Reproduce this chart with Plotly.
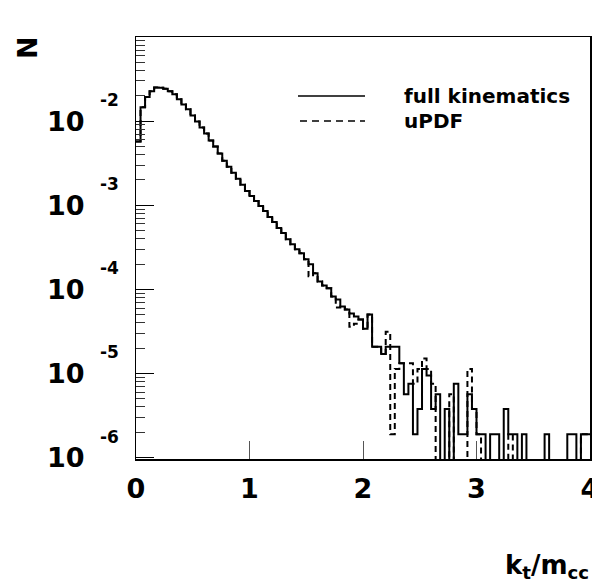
import numpy as np
import plotly.graph_objects as go

# ---- data ----
kt_edges = np.round(np.arange(0, 4.0001, 0.04), 4)  # 100 bins, width 0.04

full_kinematics = [
    5.71e-3, 1.46e-2, 1.94e-2, 2.27e-2, 2.51e-2, 2.49e-2, 2.43e-2, 2.27e-2, 2.08e-2, 1.82e-2,
    1.58e-2, 1.38e-2, 1.17e-2, 9.9e-3, 8.41e-3, 7.13e-3, 5.87e-3, 4.98e-3, 4.11e-3, 3.39e-3,
    2.87e-3, 2.43e-3, 2.06e-3, 1.75e-3, 1.48e-3, 1.29e-3, 1.125e-3, 9.8e-4, 8.55e-4, 7.24e-4,
    6.31e-4, 5.35e-4, 4.67e-4, 3.95e-4, 3.44e-4, 3.00e-4, 2.69e-4, 2.28e-4, 1.99e-4, 1.55e-4,
    1.24e-4, 1.11e-4, 1.03e-4, 8.22e-5, 7.57e-5, 6.25e-5, 5.75e-5, 5.15e-5, 4.74e-5, 4.37e-5,
    3.40e-5, 5.01e-5, 2.08e-5, 2.08e-5, 1.70e-5, 2.08e-5, 2.08e-5, 2.08e-5, 1.32e-5, 5.67e-6,
    7.56e-6, 1.89e-6, 3.78e-6, 1.13e-5, 9.45e-6, 3.78e-6, 5.67e-6, 0, 3.78e-6, 0,
    7.56e-6, 1.89e-6, 1.89e-6, 5.67e-6, 3.78e-6, 1.89e-6, 1.89e-6, 0, 1.89e-6, 1.89e-6,
    0, 3.78e-6, 1.89e-6, 1.89e-6, 0, 1.89e-6, 0, 0, 0, 0,
    1.89e-6, 0, 0, 0, 0, 1.89e-6, 1.89e-6, 0, 1.89e-6, 1.89e-6,
]

updf = [
    5.71e-3, 1.46e-2, 1.94e-2, 2.27e-2, 2.51e-2, 2.49e-2, 2.43e-2, 2.27e-2, 2.08e-2, 1.82e-2,
    1.58e-2, 1.38e-2, 1.17e-2, 9.9e-3, 8.41e-3, 7.13e-3, 5.87e-3, 4.98e-3, 4.11e-3, 3.39e-3,
    2.87e-3, 2.43e-3, 2.06e-3, 1.75e-3, 1.48e-3, 1.29e-3, 1.125e-3, 9.8e-4, 8.55e-4, 7.24e-4,
    6.31e-4, 5.35e-4, 4.67e-4, 3.95e-4, 3.44e-4, 3.00e-4, 2.69e-4, 2.28e-4, 1.43e-4, 1.55e-4,
    1.24e-4, 1.11e-4, 1.03e-4, 8.22e-5, 6.07e-5, 6.25e-5, 5.75e-5, 3.60e-5, 3.91e-5, 4.37e-5,
    3.40e-5, 5.01e-5, 2.08e-5, 2.08e-5, 1.70e-5, 3.13e-5, 1.89e-6, 1.13e-5, 1.32e-5, 1.32e-5,
    1.32e-5, 7.56e-6, 1.13e-5, 1.51e-5, 1.13e-5, 7.56e-6, 0, 0, 0, 5.67e-6,
    0, 0, 0, 1.13e-5, 3.78e-6, 1.89e-6, 0, 0, 0, 0,
    0, 0, 1.89e-6, 0, 0, 0, 0, 0, 0, 0,
    0, 0, 0, 0, 0, 0, 0, 0, 1.89e-6, 1.89e-6,
]

series_names = ["full kinematics", "uPDF"]
x_tick_vals = [0, 1, 2, 3, 4]
x_tick_text = ["0", "1", "2", "3", "4"]
y_decades = [-6, -5, -4, -3, -2]
y_tick_base = "10"
y_tick_exp = ["-6", "-5", "-4", "-3", "-2"]

# ---- figure geometry ----
W_FIG, H_FIG = 592, 588
L, R, T, B = 136, 590, 37, 459
PW, PH = R - L, B - T
FONT = "DejaVu Sans"


def px(x):
    return (x - L) / PW


def py(y):
    return (B - y) / PH


FLOOR = 1e-9  # empty bins drop below the axis


def step_xy(vals):
    v = [FLOOR if val <= 0 else val for val in vals]
    return list(kt_edges), v + [v[-1]]


fig = go.Figure()
xs, ys = step_xy(updf)
fig.add_trace(go.Scatter(x=xs, y=ys, mode="lines", line_shape="hv", name=series_names[1],
                         line=dict(color="black", width=2, dash="6px,4px"), showlegend=False))
xs, ys = step_xy(full_kinematics)
fig.add_trace(go.Scatter(x=xs, y=ys, mode="lines", line_shape="hv", name=series_names[0],
                         line=dict(color="black", width=2), showlegend=False))

minor_vals = [m * 10.0 ** d for d in range(-7, -1) for m in range(2, 10)]

fig.update_layout(
    width=W_FIG, height=H_FIG,
    margin=dict(l=L, r=W_FIG - R, t=T, b=H_FIG - B, pad=0),
    paper_bgcolor="white", plot_bgcolor="white",
    font=dict(family=FONT, color="black"),
    hovermode=False,
    xaxis=dict(range=[0, 4], showgrid=False, zeroline=False, showline=True, mirror=True,
               linecolor="black", linewidth=1.5, ticks="inside", ticklen=18, tickwidth=1,
               tickcolor="#555", tickvals=x_tick_vals, ticktext=x_tick_text,
               tickfont=dict(size=27, family=FONT, weight="bold"), automargin=False,
               ticklabeloverflow="allow", ticklabelstandoff=5),
    yaxis=dict(type="log", range=[-6.017, -1], showgrid=False, zeroline=False, showline=True,
               mirror=True, linecolor="black", linewidth=1.5, ticks="inside", ticklen=18,
               tickwidth=1, tickcolor="black", tickvals=[10.0 ** d for d in y_decades],
               showticklabels=False, automargin=False,
               minor=dict(tickvals=minor_vals, ticks="inside", ticklen=9, tickwidth=1,
                          tickcolor="#333", showgrid=False)),
)

ann = []
for d, e in zip(y_decades, y_tick_exp):
    ann.append(dict(text="<b>%s</b>" % y_tick_base, xref="paper", yref="y", x=px(87), y=d,
                    xanchor="right", yanchor="middle", showarrow=False,
                    font=dict(size=27, family=FONT)))
    ann.append(dict(text="<b>%s</b>" % e, xref="paper", yref="y", x=px(121), y=d, yshift=21,
                    xanchor="right", yanchor="middle", showarrow=False,
                    font=dict(size=17, family=FONT)))

# axis titles
ann.append(dict(text="<b>N</b>", xref="paper", yref="paper", x=px(27), y=py(48),
                xanchor="center", yanchor="middle", textangle=-90, showarrow=False,
                font=dict(size=27, family=FONT)))
ann.append(dict(text="<b>k<sub>t</sub>/m<sub>cc</sub></b>", xref="paper", yref="paper",
                x=px(591), y=py(566), xanchor="right", yanchor="middle", showarrow=False,
                font=dict(size=26, family=FONT)))

# legend
shapes = [
    dict(type="line", xref="paper", yref="paper", x0=px(298), x1=px(365), y0=py(96), y1=py(96),
         line=dict(color="black", width=1.5)),
    dict(type="line", xref="paper", yref="paper", x0=px(300), x1=px(365), y0=py(121), y1=py(121),
         line=dict(color="black", width=1.5, dash="7px,5px")),
]
for name, yy in zip(series_names, [96, 121]):
    ann.append(dict(text="<b>%s</b>" % name, xref="paper", yref="paper", x=px(402), y=py(yy),
                    xanchor="left", yanchor="middle", showarrow=False,
                    font=dict(size=20, family=FONT)))

fig.update_layout(annotations=ann, shapes=shapes)
fig.write_html("out.html", config={"displayModeBar": False, "staticPlot": True},
               post_script="document.body.style.margin='0';document.body.style.overflow='hidden';")
